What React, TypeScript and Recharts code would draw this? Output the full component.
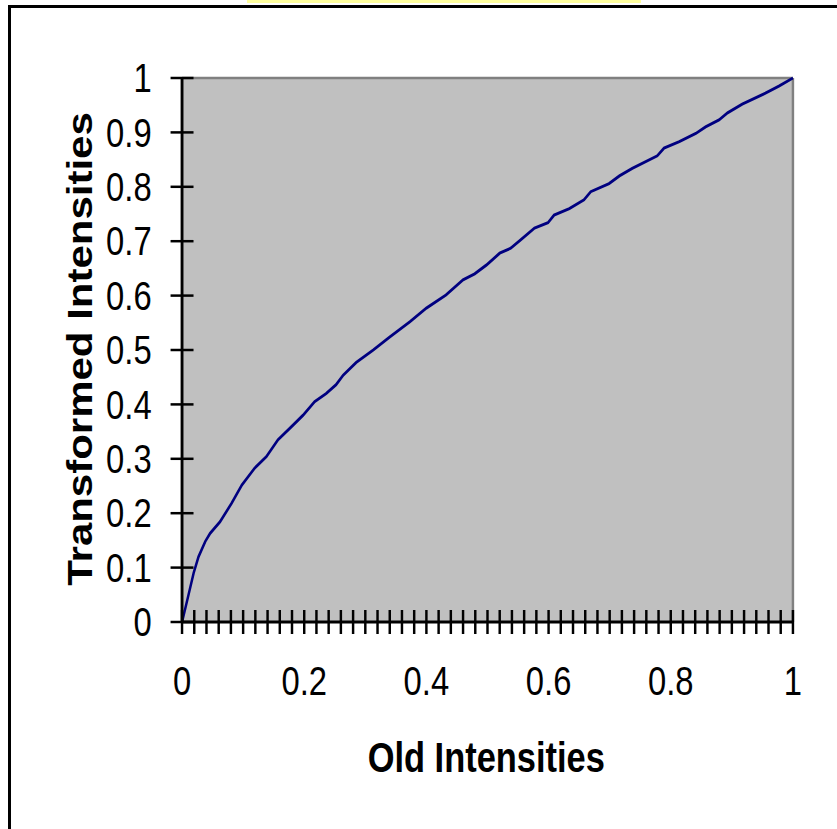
import { LineChart, Line, XAxis, YAxis, CartesianGrid, ReferenceLine } from 'recharts'

// values
const oldIntensity = [
	0, 0.01, 0.019, 0.027, 0.038, 0.046, 0.062, 0.081, 0.098, 0.119, 0.138, 0.157, 0.179, 0.198,
	0.217, 0.236, 0.252, 0.264, 0.285, 0.313, 0.34, 0.373, 0.4, 0.432, 0.46, 0.479, 0.498, 0.52,
	0.538, 0.555, 0.577, 0.599, 0.609, 0.634, 0.658, 0.669, 0.699, 0.716, 0.737, 0.778, 0.789,
	0.814, 0.841, 0.857, 0.879, 0.893, 0.917, 0.955, 0.977, 1
]
const transformed = [
	0, 0.047, 0.09, 0.12, 0.148, 0.163, 0.184, 0.218, 0.252, 0.283, 0.304, 0.335, 0.359, 0.38,
	0.405, 0.42, 0.436, 0.454, 0.477, 0.5, 0.524, 0.552, 0.577, 0.601, 0.629, 0.64, 0.656, 0.678,
	0.687, 0.703, 0.724, 0.734, 0.748, 0.76, 0.776, 0.791, 0.806, 0.82, 0.834, 0.857, 0.871,
	0.883, 0.898, 0.91, 0.923, 0.936, 0.952, 0.972, 0.985, 1
]

const xTicks = [
	0, 0.02, 0.04, 0.06, 0.08, 0.1, 0.12, 0.14, 0.16, 0.18, 0.2, 0.22, 0.24, 0.26, 0.28, 0.3, 0.32,
	0.34, 0.36, 0.38, 0.4, 0.42, 0.44, 0.46, 0.48, 0.5, 0.52, 0.54, 0.56, 0.58, 0.6, 0.62, 0.64,
	0.66, 0.68, 0.7, 0.72, 0.74, 0.76, 0.78, 0.8, 0.82, 0.84, 0.86, 0.88, 0.9, 0.92, 0.94, 0.96,
	0.98, 1
]
const xLabels = [0, 0.2, 0.4, 0.6, 0.8, 1]
const yTicks = [0, 0.1, 0.2, 0.3, 0.4, 0.5, 0.6, 0.7, 0.8, 0.9, 1]

const data = oldIntensity.map((x, i) => ({ x, y: transformed[i] }))

// the original is squeezed horizontally, so draw wide and scale x down
const SX = 0.82
const W = 1021
const H = 829
const FONT = "'Liberation Sans', Arial, sans-serif"

const fmt = (v: number) => String(Math.round(v * 10) / 10)

function XTick(props: any) {
	const { x, y, payload } = props
	const axisY = y - 12
	const v = payload.value
	const labelled = xLabels.some((l) => Math.abs(l - v) < 1e-6)
	return (
		<g>
			<line x1={x} x2={x} y1={axisY - 12} y2={axisY + 12} stroke="#000" strokeWidth={3} />
			{labelled && (
				<text x={x} y={axisY + 73} textAnchor="middle" fontSize={40} fontFamily={FONT} fill="#000">
					{fmt(v)}
				</text>
			)}
		</g>
	)
}

function YTick(props: any) {
	const { x, y, payload } = props
	const axisX = x + 37
	return (
		<g>
			<line x1={axisX - 14} x2={axisX + 14} y1={y} y2={y} stroke="#000" strokeWidth={2.5} />
			<text x={x} y={y} dy="0.355em" textAnchor="end" fontSize={40} fontFamily={FONT} fill="#000">
				{fmt(payload.value)}
			</text>
		</g>
	)
}

export default function App() {
	return (
		<div
			style={{
				position: 'fixed',
				left: 0,
				top: 0,
				width: 837,
				height: 829,
				overflow: 'hidden',
				background: '#fff'
			}}
		>
			<div style={{ position: 'absolute', left: 247, top: 0, width: 394, height: 3, background: '#ffff9e' }} />
			<div
				style={{
					position: 'absolute',
					left: 8,
					top: 5,
					width: 900,
					height: 900,
					border: '3px solid #000'
				}}
			/>
			<div
				style={{
					position: 'absolute',
					left: 0,
					top: 0,
					width: W,
					height: H,
					transform: `scaleX(${SX})`,
					transformOrigin: '0 0'
				}}
			>
				<LineChart width={W} height={H} data={data} margin={{ top: 78, right: 54, bottom: 0, left: 0 }}>
					<CartesianGrid fill="#c0c0c0" stroke="none" horizontal={false} vertical={false} />
					<ReferenceLine y={1} stroke="#808080" strokeWidth={2.5} />
					<ReferenceLine x={1} stroke="#808080" strokeWidth={3} />
					<XAxis
						type="number"
						dataKey="x"
						domain={[0, 1]}
						ticks={xTicks}
						interval={0}
						height={207}
						tickSize={12}
						tickMargin={0}
						tickLine={false}
						axisLine={{ stroke: '#000', strokeWidth: 3 }}
						tick={<XTick />}
						label={{
							value: 'Old Intensities',
							content: (p: any) => (
								<text
									x={593}
									y={772}
									textAnchor="middle"
									fontSize={42}
									fontWeight="bold"
									fontFamily={FONT}
									fill="#000"
								>
									Old Intensities
								</text>
							)
						}}
					/>
					<YAxis
						type="number"
						domain={[0, 1]}
						ticks={yTicks}
						interval={0}
						width={222}
						tickSize={14}
						tickMargin={23}
						tickLine={false}
						axisLine={{ stroke: '#000', strokeWidth: 3.5 }}
						tick={<YTick />}
						label={{
							value: 'Transformed Intensities',
							content: (p: any) => (
								<text
									x={112}
									y={349}
									transform="rotate(-90, 112, 349)"
									textAnchor="middle"
									fontSize={42}
									fontWeight="bold"
									fontFamily={FONT}
									fill="#000"
								>
									Transformed Intensities
								</text>
							)
						}}
					/>
					<Line
						type="linear"
						dataKey="y"
						stroke="#000080"
						strokeWidth={3}
						dot={false}
						activeDot={false}
						isAnimationActive={false}
					/>
				</LineChart>
			</div>
		</div>
	)
}
